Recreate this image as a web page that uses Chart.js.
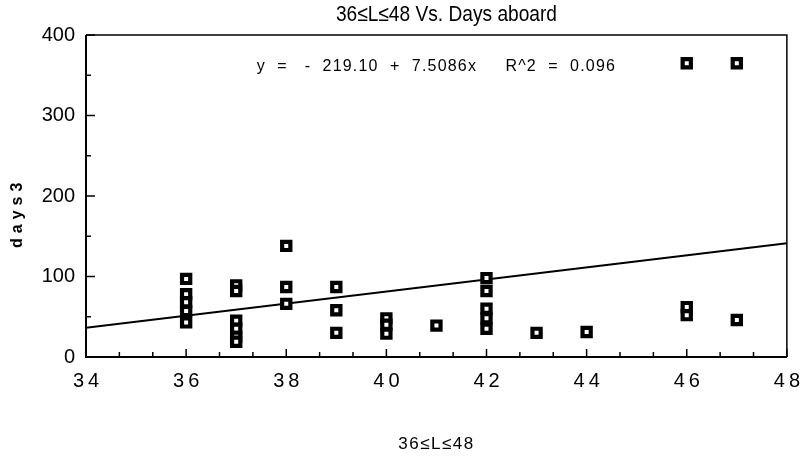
<!DOCTYPE html>
<html><head><meta charset="utf-8">
<script src="https://cdn.jsdelivr.net/npm/chart.js@4/dist/chart.umd.min.js"></script>
<style>html,body{margin:0;padding:0;background:#fff}#wrap{width:810px;height:457px}</style>
</head><body><div id="wrap"><canvas id="c" width="810" height="457"></canvas></div>
<script>
const titleText = "36\u2264L\u226448 Vs. Days aboard";
const xAxisTitle = "36\u2264L\u226448";
const yAxisTitle = "days3";
const equationText = "y  =   -  219.10  +  7.5086x     R^2  =  0.096";
const pointX = [36,36,36,36,36, 37,37,37,37,37,37, 38,38,38, 39,39,39, 40,40,40, 41, 42,42,42,42,42, 43, 44, 46,46,46, 47,47];
const pointY = [97,78,68,57,43, 89,82,45,35,25,19, 138,87,66, 87,58,30, 48,40,29, 39, 98,82,60,48,35, 30, 31, 62,52,365, 46,365];
const fitX = [34, 48];
const fitY = [36.2, 141.3];
const xTicks = [34,36,38,40,42,44,46,48];
const yTicks = [0,100,200,300,400];
const FONT = '"Liberation Sans", Arial, sans-serif';

const frame = {
  id:'frame',
  afterLayout(chart){
    const s = chart.scales.x;
    if(!s._wrapped){
      const orig = s.drawLabels;
      s.drawLabels = function(ca){ const c=this.ctx; c.save(); c.letterSpacing='4px'; c.translate(2,0); orig.call(this,ca); c.restore(); };
      s._wrapped = true;
    }
  },
  afterDatasetsDraw(chart){
    const {ctx, chartArea:a, scales:{x,y}} = chart;
    ctx.save();
    ctx.strokeStyle='#000';
    ctx.lineWidth=1.5;
    ctx.beginPath();
    ctx.moveTo(a.left,a.top);ctx.lineTo(a.right,a.top);ctx.lineTo(a.right,a.bottom);
    ctx.stroke();
    ctx.lineWidth=2;
    ctx.beginPath();
    ctx.moveTo(a.left,a.top);ctx.lineTo(a.left,a.bottom);ctx.lineTo(a.right,a.bottom);
    ctx.stroke();
    ctx.lineWidth=1.5;
    for(let i=0;i<=21;i++){
      const v = 34 + i*2/3;
      const px = x.getPixelForValue(v);
      const major = i%3===0;
      ctx.beginPath();ctx.moveTo(px,a.bottom);ctx.lineTo(px,a.bottom-(major?8:5));ctx.stroke();
    }
    for(let v=0; v<=400; v+=50){
      const py = y.getPixelForValue(v);
      const major = v%100===0;
      ctx.beginPath();ctx.moveTo(a.left,py);ctx.lineTo(a.left+(major?9:5),py);ctx.stroke();
    }
    ctx.fillStyle='#000';
    ctx.textAlign='center';ctx.textBaseline='middle';
    // equation
    ctx.font='16px '+FONT;
    ctx.letterSpacing='1.2px';
    ctx.fillText(equationText, x.getPixelForValue(41.0), y.getPixelForValue(361));
    // title
    ctx.save();
    ctx.letterSpacing='0px';
    ctx.font='22px '+FONT;
    ctx.translate(x.getPixelForValue(41.2), 15);
    ctx.scale(0.87,1);
    ctx.fillText(titleText, 0, 0);
    ctx.restore();
    // x axis title
    ctx.letterSpacing='1.5px';
    ctx.font='17px '+FONT;
    ctx.fillText(xAxisTitle, x.getPixelForValue(41.0), 444);
    // y axis title
    ctx.save();
    ctx.translate(18, y.getPixelForValue(176));
    ctx.rotate(-Math.PI/2);
    ctx.letterSpacing='5px';
    ctx.font='bold 16px '+FONT;
    ctx.fillText(yAxisTitle, 2.5, 0);
    ctx.restore();
    ctx.restore();
  }
};

new Chart(document.getElementById('c'), {
  type:'scatter',
  data:{datasets:[
    {type:'line', data: fitX.map((v,i)=>({x:v,y:fitY[i]})), borderColor:'#000', borderWidth:2, pointRadius:0, fill:false, order:2},
    {data: pointX.map((v,i)=>({x:v,y:pointY[i]})), pointStyle:'rect', pointRadius:5.8, backgroundColor:'#fff', borderColor:'#000', borderWidth:4.2, order:1}
  ]},
  options:{
    responsive:false, animation:false,
    layout:{padding:{left:0,right:17,top:35,bottom:0}},
    plugins:{ legend:{display:false}, tooltip:{enabled:false}, title:{display:false} },
    scales:{
      x:{type:'linear', min:34, max:48, afterFit(s){s.height=100;},
        afterBuildTicks(s){s.ticks = xTicks.map(v=>({value:v}));},
        grid:{display:false, drawTicks:false}, border:{display:false},
        ticks:{color:'#000', padding:12, font:{family:FONT, size:20}}
      },
      y:{type:'linear', min:0, max:400, afterFit(s){s.width=86;},
        afterBuildTicks(s){s.ticks = yTicks.map(v=>({value:v}));},
        grid:{display:false, drawTicks:false}, border:{display:false},
        ticks:{color:'#000', padding:11, font:{family:FONT, size:20}}
      }
    }
  },
  plugins:[frame]
});
</script></body></html>
